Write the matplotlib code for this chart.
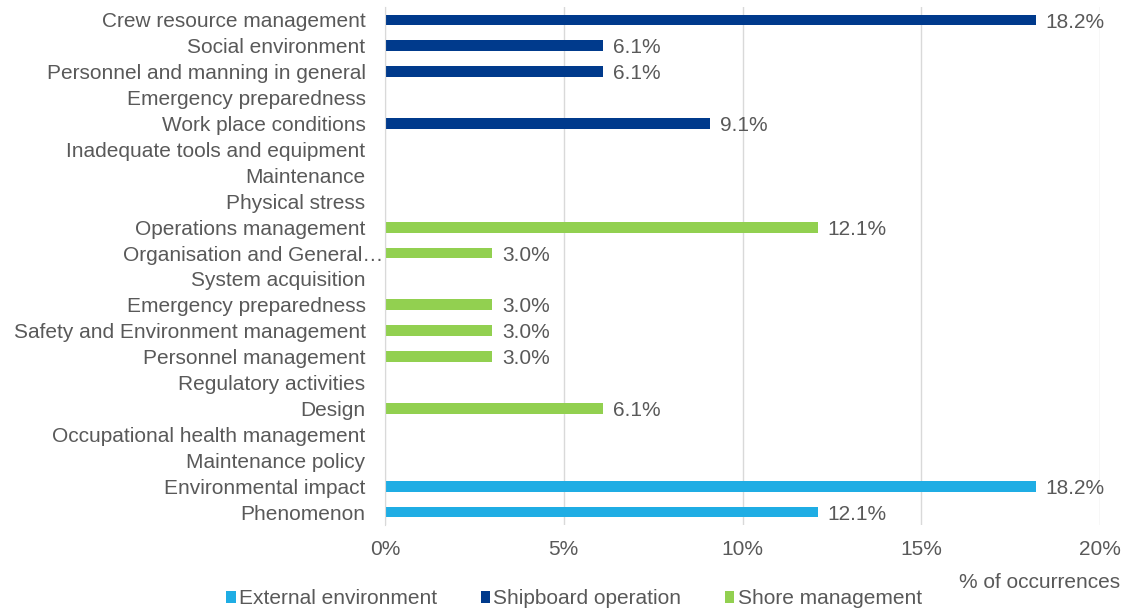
import matplotlib
matplotlib.use("Agg")
import matplotlib.pyplot as plt
from matplotlib.ticker import PercentFormatter
from matplotlib.transforms import ScaledTranslation

plt.rcParams['font.family'] = ['Liberation Sans', 'DejaVu Sans']

categories = [
    "Crew resource management", "Social environment", "Personnel and manning in general",
    "Emergency preparedness", "Work place conditions", "Inadequate tools and equipment",
    "Maintenance", "Physical stress",
    "Operations management", "Organisation and General…", "System acquisition",
    "Emergency preparedness", "Safety and Environment management", "Personnel management",
    "Regulatory activities", "Design", "Occupational health management", "Maintenance policy",
    "Environmental impact", "Phenomenon",
]
values = [18.2, 6.1, 6.1, 0, 9.1, 0, 0, 0,
          12.1, 3.0, 0, 3.0, 3.0, 3.0, 0, 6.1, 0, 0,
          18.2, 12.1]
groups = ["Shipboard operation"] * 8 + ["Shore management"] * 10 + ["External environment"] * 2
group_order = ["External environment", "Shipboard operation", "Shore management"]
colors = {"External environment": "#1FADE4", "Shipboard operation": "#003A8C", "Shore management": "#92D050"}

text_color = "#595959"
fs = 15

fig = plt.figure(figsize=(11.31, 6.09), dpi=100)
ax = fig.add_axes([0.3404, 0.138, 0.6322, 0.8505])

for g in group_order:
    idx = [i for i, gg in enumerate(groups) if gg == g]
    ax.barh(idx, [values[i] for i in idx], height=0.42, color=colors[g], label=g, zorder=3)

for i, v in enumerate(values):
    if v > 0:
        ax.annotate(f"{v:.1f}%", xy=(v, i), xytext=(7, -1.5), textcoords="offset points",
                    va="center", ha="left", fontsize=fs, color=text_color)

ax.set_ylim(len(categories) - 0.5, -0.5)
ax.set_yticks(range(len(categories)))
ax.set_yticklabels(categories, fontsize=fs, color=text_color)
ax.set_xlim(0, 20)
ax.set_xticks([0, 5, 10, 15, 20])
ax.xaxis.set_major_formatter(PercentFormatter(decimals=0))
ax.tick_params(axis="x", labelsize=fs, colors=text_color, length=0, pad=11)
ax.tick_params(axis="y", length=0, pad=14)
ax.grid(axis="x", color="#D9D9D9", linewidth=1, zorder=0)
for s in ["top", "right", "bottom"]:
    ax.spines[s].set_visible(False)
ax.spines["left"].set_color("#D9D9D9")
ax.spines["left"].set_zorder(4)

# the truncated label sits right against the axis in the reference
for lbl in ax.get_yticklabels():
    if lbl.get_text().endswith("…"):
        lbl.set_transform(lbl.get_transform() + ScaledTranslation(18 / 100, 0, fig.dpi_scale_trans))

fig.text(1120 / 1131, 1 - 582 / 609, "% of occurrences", ha="right", va="center",
         fontsize=fs, color=text_color)

leg = fig.legend(*ax.get_legend_handles_labels(), loc="center", bbox_to_anchor=(574 / 1131, 1 - 599 / 609),
                 ncol=3, frameon=False, fontsize=fs, handlelength=0.45, handleheight=0.45,
                 handletextpad=0.15, columnspacing=2.1, borderpad=0, borderaxespad=0)
for t in leg.get_texts():
    t.set_color(text_color)

fig.savefig("out.png", dpi=100)
